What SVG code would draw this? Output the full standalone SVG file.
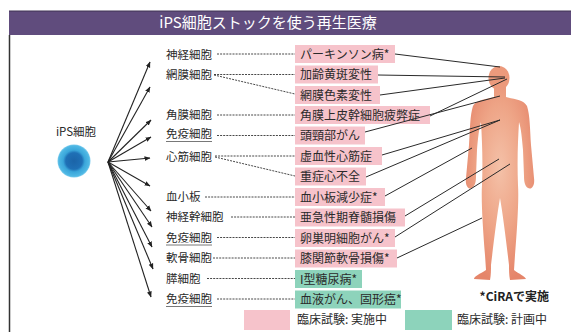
<svg xmlns="http://www.w3.org/2000/svg" width="571" height="332" viewBox="0 0 571 332">
  <style>
    text { font-family: "Noto Sans CJK JP", "Noto Sans", sans-serif; fill: #2a2a2a; }
    .title { fill: #fff; font-size: 15px; }
    .cell { font-size: 11.5px; }
    .dis { font-size: 12px; }
    .leg { font-size: 12px; }
    .note { font-size: 12px; font-weight: bold; fill: #222; }
    .pink { fill: #f6c3cb; }
    .green { fill: #8dd3bb; }
    .dot { stroke: #333; stroke-width: 0.9; stroke-dasharray: 2 1.1; fill: none; }
    .ul { stroke: #555; stroke-width: 0.8; }
    .fan line { stroke: #222; stroke-width: 1.1; marker-end: url(#arr); }
    .body line { stroke: #2a2a2a; stroke-width: 1; }
  </style>
  <defs>
    <marker id="arr" markerUnits="userSpaceOnUse" markerWidth="6" markerHeight="6" refX="5.5" refY="3" orient="auto">
      <path d="M0,0.6 L6,3 L0,5.4 z" fill="#222"/>
    </marker>
    <radialGradient id="cellg" cx="0.5" cy="0.5" r="0.5">
      <stop offset="0" stop-color="#1b64a8"/>
      <stop offset="0.5" stop-color="#1f70b6"/>
      <stop offset="0.66" stop-color="#3aa6da"/>
      <stop offset="0.92" stop-color="#4fb8e4"/>
      <stop offset="1" stop-color="#7fcdee"/>
    </radialGradient>
    <radialGradient id="skin" cx="0.5" cy="0.42" r="0.6">
      <stop offset="0" stop-color="#f4c1a8"/>
      <stop offset="0.55" stop-color="#eea486"/>
      <stop offset="1" stop-color="#e5856a"/>
    </radialGradient>
  </defs>

  <rect width="571" height="332" fill="#fff"/>

  <!-- header -->
  <g id="header">
    <rect x="9" y="11" width="562" height="24" fill="#604c7d"/>
    <line x1="9" y1="11" x2="571" y2="11" stroke="#3f3252" stroke-width="1"/>
    <text class="title" x="268" y="28" text-anchor="middle">iPS細胞ストックを使う再生医療</text>
    <line x1="9.5" y1="35" x2="9.5" y2="332" stroke="#333" stroke-width="1.5"/>
  </g>

  <!-- source cell -->
  <g id="ips">
    <text class="cell" x="76" y="136" text-anchor="middle">iPS細胞</text>
    <circle cx="74" cy="161" r="16.5" fill="url(#cellg)"/>
  </g>

  <!-- cell types -->
  <g id="cells">
    <text class="cell" x="166" y="58.5">神経細胞</text>
    <text class="cell" x="166" y="78.5">網膜細胞</text>
    <text class="cell" x="166" y="119">角膜細胞</text>
    <text class="cell" x="166" y="138">免疫細胞</text>
    <line class="ul" x1="166" y1="141.5" x2="212" y2="141.5"/>
    <text class="cell" x="166" y="161">心筋細胞</text>
    <text class="cell" x="166" y="201">血小板</text>
    <text class="cell" x="166" y="221">神経幹細胞</text>
    <text class="cell" x="166" y="241.5">免疫細胞</text>
    <line class="ul" x1="166" y1="245" x2="212" y2="245"/>
    <text class="cell" x="166" y="262">軟骨細胞</text>
    <text class="cell" x="166" y="282.5">膵細胞</text>
    <text class="cell" x="166" y="303">免疫細胞</text>
    <line class="ul" x1="166" y1="306.5" x2="212" y2="306.5"/>
  </g>

  <!-- diseases -->
  <g id="diseases">
    <rect class="pink" x="295" y="45" width="100" height="18"/>
    <text class="dis" x="300" y="58.5">パーキンソン病*</text>
    <rect class="pink" x="295" y="65.5" width="83" height="18"/>
    <text class="dis" x="300" y="79">加齢黄斑変性</text>
    <rect class="pink" x="295" y="86" width="85" height="18"/>
    <text class="dis" x="300" y="99.5">網膜色素変性</text>
    <rect class="pink" x="295" y="106" width="135" height="18"/>
    <text class="dis" x="300" y="119.5">角膜上皮幹細胞疲弊症</text>
    <rect class="pink" x="295" y="126.5" width="70" height="18"/>
    <text class="dis" x="300" y="140">頭頸部がん</text>
    <rect class="pink" x="295" y="147" width="87" height="18"/>
    <text class="dis" x="300" y="160.5">虚血性心筋症</text>
    <rect class="pink" x="295" y="167.5" width="71" height="18"/>
    <text class="dis" x="300" y="181">重症心不全</text>
    <rect class="pink" x="295" y="188" width="90" height="18"/>
    <text class="dis" x="300" y="201.5">血小板減少症*</text>
    <rect class="pink" x="295" y="208.5" width="110" height="18"/>
    <text class="dis" x="300" y="222">亜急性期脊髄損傷</text>
    <rect class="pink" x="295" y="229" width="100" height="18"/>
    <text class="dis" x="300" y="242.5">卵巣明細胞がん*</text>
    <rect class="pink" x="295" y="249.5" width="102" height="18"/>
    <text class="dis" x="300" y="263">膝関節軟骨損傷*</text>
    <rect class="green" x="295" y="270" width="67" height="18"/>
    <text class="dis" x="300" y="283.5">I型糖尿病*</text>
    <rect class="green" x="295" y="290.5" width="106" height="18"/>
    <text class="dis" x="300" y="304">血液がん、固形癌*</text>
  </g>

  <!-- human figure -->
  <g id="figure">
    <ellipse cx="499" cy="78" rx="10.5" ry="12" fill="#ec9a7c"/>
    <path fill="url(#skin)" d="M494 87 L494 97 C486 99 476 100 473 106 C470 115 470 130 469 145 L466 178 C465 185 468 190 472 188 C475 186 476 182 476 176 L477 150 C478 138 479 128 481 122 C482 140 483 160 482 185 C481 200 483 230 485 255 L486 270 C480 274 474 276 474 279 L490 280 C491 275 491 270 491 265 C494 240 497 215 500 198 C503 215 506 240 509 265 C509 270 509 275 510 280 L526 279 C525 276 519 274 514 270 L515 255 C517 230 519 200 518 185 C517 160 518 140 519 122 C521 128 522 138 523 150 L524 176 C524 182 525 186 528 188 C532 190 535 185 534 178 L531 145 C530 130 530 115 527 106 C524 100 514 99 506 97 L506 87 Z"/>
  </g>

  <!-- connectors -->
  <g id="connectors">
    <g class="fan">
      <line x1="108" y1="162" x2="150" y2="62"/>
      <line x1="108" y1="162" x2="150" y2="87"/>
      <line x1="108" y1="162" x2="151" y2="120"/>
      <line x1="108" y1="162" x2="151" y2="137"/>
      <line x1="108" y1="162" x2="150" y2="158"/>
      <line x1="108" y1="162" x2="150" y2="186"/>
      <line x1="108" y1="162" x2="151" y2="211"/>
      <line x1="108" y1="162" x2="152" y2="227"/>
      <line x1="108" y1="162" x2="152" y2="247"/>
      <line x1="108" y1="162" x2="153" y2="269"/>
      <line x1="108" y1="162" x2="151" y2="297"/>
    </g>
    <g class="dots">
      <line class="dot" x1="217" y1="54" x2="295" y2="54"/>
      <line class="dot" x1="214" y1="74.5" x2="295" y2="74.5"/>
      <line class="dot" x1="214" y1="75" x2="295" y2="94"/>
      <line class="dot" x1="217" y1="115" x2="295" y2="115"/>
      <line class="dot" x1="217" y1="135.5" x2="295" y2="135.5"/>
      <line class="dot" x1="215" y1="156" x2="295" y2="156"/>
      <line class="dot" x1="215" y1="157" x2="295" y2="176"/>
      <line class="dot" x1="205" y1="197" x2="295" y2="197"/>
      <line class="dot" x1="231" y1="217" x2="295" y2="217"/>
      <line class="dot" x1="217" y1="237.5" x2="295" y2="237.5"/>
      <line class="dot" x1="213" y1="258" x2="295" y2="258"/>
      <line class="dot" x1="207" y1="278.5" x2="295" y2="278.5"/>
      <line class="dot" x1="217" y1="299" x2="295" y2="299"/>
    </g>
    <g class="body">
      <line x1="395" y1="54" x2="500" y2="67"/>
      <line x1="378" y1="75" x2="505" y2="77"/>
      <line x1="380" y1="95" x2="505" y2="78"/>
      <line x1="430" y1="116" x2="507" y2="79"/>
      <line x1="365" y1="132" x2="500" y2="96"/>
      <line x1="382" y1="155" x2="500" y2="120"/>
      <line x1="366" y1="177" x2="500" y2="120"/>
      <line x1="385" y1="196" x2="472" y2="148"/>
      <line x1="405" y1="216" x2="499" y2="159"/>
      <line x1="395" y1="237" x2="510" y2="164"/>
      <line x1="397" y1="258" x2="482" y2="218"/>
    </g>
  </g>

  <!-- legend -->
  <g id="legend">
    <text class="note" x="549" y="301" text-anchor="end">*CiRAで実施</text>
    <rect class="pink" x="244" y="310" width="46" height="20"/>
    <text class="leg" x="297" y="324">臨床試験: 実施中</text>
    <rect class="green" x="405" y="310" width="47" height="20"/>
    <text class="leg" x="457" y="324">臨床試験: 計画中</text>
  </g>
</svg>
